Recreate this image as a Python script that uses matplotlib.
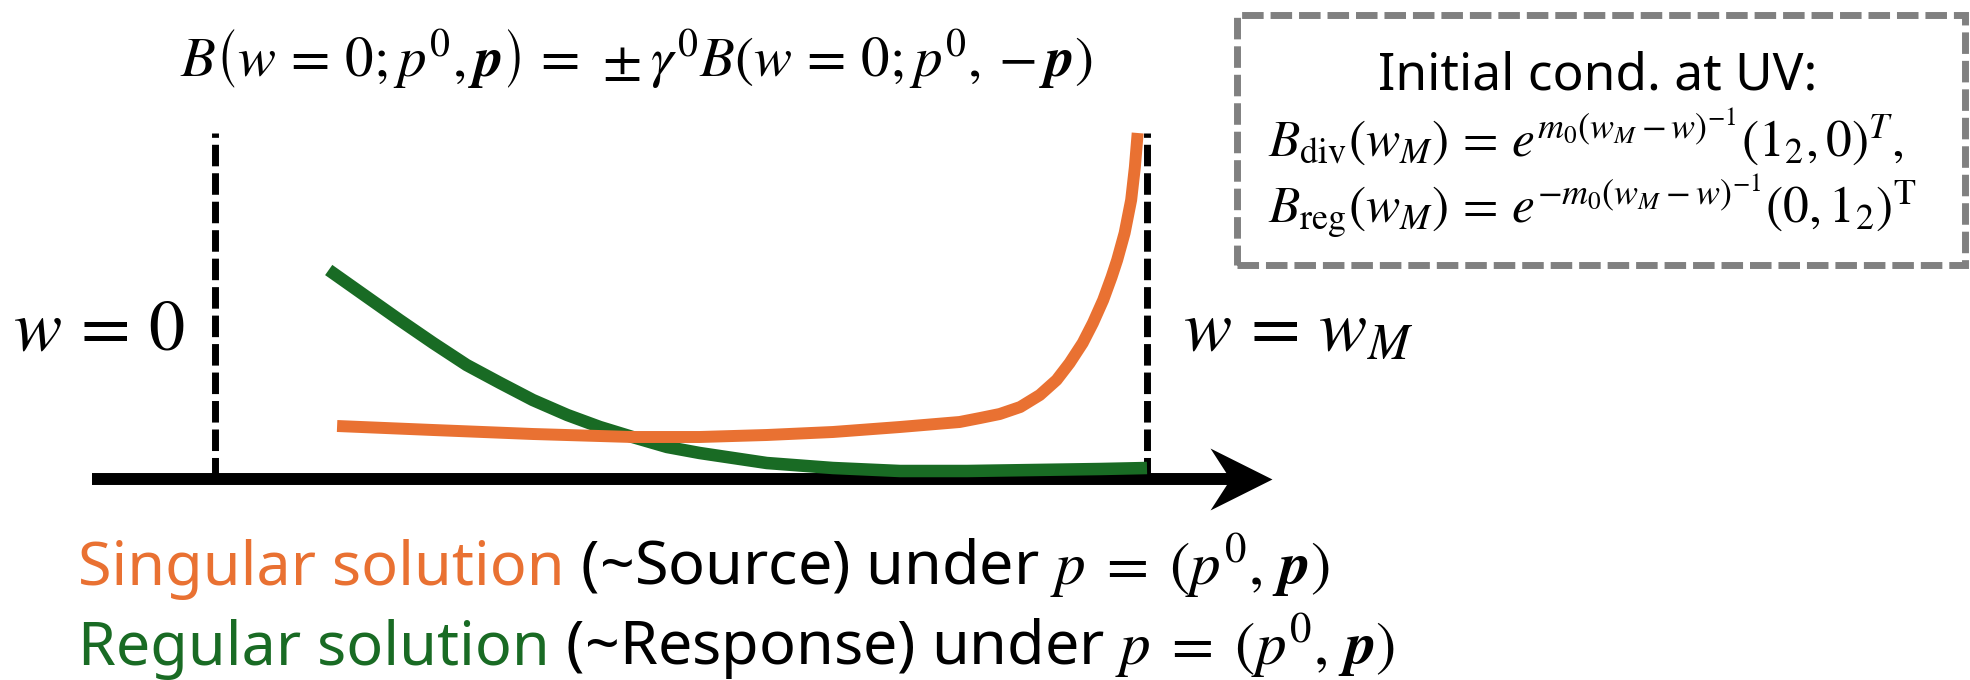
import matplotlib
matplotlib.use('Agg')
import matplotlib.pyplot as plt
from matplotlib.patches import Rectangle
from matplotlib.path import Path

plt.rcParams['font.family'] = ['Noto Sans', 'DejaVu Sans']
plt.rcParams['mathtext.fontset'] = 'stix'

#--curves, w in units of w_M, B in arbitrary units
w_sing = [0.131, 0.234, 0.341, 0.448, 0.520, 0.592, 0.663, 0.735, 0.799,
          0.821, 0.842, 0.864, 0.885, 0.903, 0.917, 0.931, 0.942, 0.953,
          0.962, 0.968, 0.976, 0.983, 0.987, 0.990]
b_sing = [0.53, 0.49, 0.45, 0.42, 0.42, 0.44, 0.47, 0.52, 0.57,
          0.61, 0.65, 0.72, 0.84, 0.99, 1.16, 1.36, 1.56, 1.79,
          2.02, 2.19, 2.46, 2.79, 3.12, 3.46]
w_reg = [0.122, 0.163, 0.198, 0.234, 0.270, 0.306, 0.341, 0.378, 0.413,
         0.448, 0.485, 0.520, 0.592, 0.663, 0.735, 0.807, 0.878, 0.950, 1.000]
b_reg = [2.09, 1.82, 1.59, 1.36, 1.14, 0.96, 0.79, 0.64, 0.52,
         0.42, 0.32, 0.26, 0.16, 0.11, 0.08, 0.08, 0.09, 0.10, 0.11]

#--boundaries w=0 and w=w_M
wall_w = [0.0, 1.0]
wall_top = 3.46

orange = '#E97132'
green = '#196B24'

W, H = 1970, 680
fig = plt.figure(figsize=(W/100, H/100), dpi=100)
ax = fig.add_axes([0, 0, 1, 1])
x0, x1, yb = 215, 1147, 479
sx = x1 - x0
ax.set_xlim(-x0/sx, (W-x0)/sx)
ax.set_ylim(-(H-yb)/100, yb/100)
ax.axis('off')

#--axis arrow with notched head
ax.plot([-0.132, 1.09], [0, 0], color='k', lw=8.6, solid_capstyle='butt')
head = Path([(31, 0), (-31, 31), (-11, 0), (-31, -31), (31, 0)],
            [Path.MOVETO, Path.LINETO, Path.LINETO, Path.LINETO, Path.CLOSEPOLY])
ax.plot([1.101], [0], marker=head, markersize=44.6, color='k', mew=0)

for w in wall_w:
    ax.plot([w, w], [0, wall_top], color='k', lw=5,
            ls=(0, (3.1, 1.0)), zorder=1)

ax.plot(w_reg, b_reg, color=green, lw=9, solid_capstyle='butt',
        solid_joinstyle='round', zorder=3)
ax.plot(w_sing, b_sing, color=orange, lw=8.6, solid_capstyle='butt',
        solid_joinstyle='round', zorder=4)

def px(x, y):
    return x/W, 1 - y/H

def put_line(x, y, pieces, size):
    r = fig.canvas.get_renderer()
    for s, c in pieces:
        t = fig.text(*px(x, y), s, color=c, fontsize=size,
                     ha='left', va='baseline')
        x = t.get_window_extent(r).x1

#--texts
fig.text(*px(636, 76),
         r'$B\left(w\,=\,0;p^0,\mathbfit{p}\right)\,=\,\pm\gamma^0 B(w\,=\,0;p^0,-\mathbfit{p})$',
         fontsize=41, ha='center', va='baseline')
fig.text(*px(13, 350), r'$w\,=\,0$', fontsize=52, ha='left', va='baseline')
fig.text(*px(1183, 350), r'$w\,=\,w_M$', fontsize=52, ha='left', va='baseline')

box = Rectangle(px(1237, 265), (1965-1237)/W, (265-15)/H,
                transform=fig.transFigure, fill=False, ec='#808080',
                lw=5, ls=(0, (3.1, 1.0)))
fig.add_artist(box)
fig.text(*px(1598, 90), 'Initial cond. at UV:', fontsize=37,
         ha='center', va='baseline')
fig.text(*px(1268, 157),
         r'$B_{\mathrm{div}}(w_M)\,=\,e^{m_0(w_M-w)^{-1}}(1_2,0)^T,$',
         fontsize=37, ha='left', va='baseline')
fig.text(*px(1268, 224),
         r'$B_{\mathrm{reg}}(w_M)\,=\,e^{-m_0(w_M-w)^{-1}}(0,1_2)^{\mathrm{T}}$',
         fontsize=37, ha='left', va='baseline')

put_line(78, 585, [('Singular solution', orange),
                   (r' (~Source) under $p\;=\;(p^0,\,\mathbfit{p})$', 'k')], 44)
put_line(78, 665, [('Regular solution', green),
                   (r' (~Response) under $p\;=\;(p^0,\,\mathbfit{p})$', 'k')], 44)

fig.savefig('out.png', dpi=100)
